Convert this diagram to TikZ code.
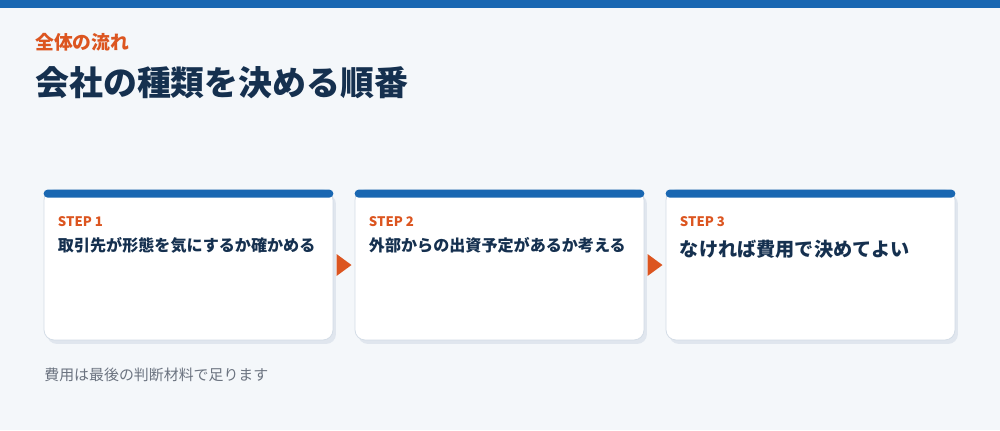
\documentclass[tikz,border=0pt]{standalone}
\usepackage{fontspec}
\setmainfont{Noto Sans CJK JP}
\usetikzlibrary{shapes.geometric, positioning, calc, shadows}
\definecolor{bgpage}{HTML}{F4F7FA}
\definecolor{topblue}{HTML}{1967B2}
\definecolor{accentorange}{HTML}{DC5520}
\definecolor{titlenavy}{HTML}{15304F}
\definecolor{cardline}{HTML}{D3DCE6}
\definecolor{cardshadow}{HTML}{E0E6EE}
\definecolor{notegray}{HTML}{6B7380}

\begin{document}
\begin{tikzpicture}[x=0.02cm, y=-0.02cm,
    card/.style={draw=cardline, line width=0.45pt, fill=white, rounded corners=0.2cm,
        minimum width=5.78cm, minimum height=3cm, inner sep=0pt,
        drop shadow={shadow xshift=0.06cm, shadow yshift=-0.08cm, fill=cardshadow, opacity=1}},
    steplabel/.style={anchor=west, inner sep=0pt, text=accentorange, font=\fontsize{7.5pt}{8pt}\selectfont\bfseries},
    cardtext/.style={anchor=west, inner sep=0pt, text=titlenavy}]
    \useasboundingbox (0,0) rectangle (1000,430);
    \fill[bgpage] (0,0) rectangle (1000,430);
    \fill[topblue] (0,0) rectangle (1000,8);

    % Heading
    \node[anchor=west, inner sep=0pt, text=accentorange, font=\fontsize{10.7pt}{12pt}\selectfont\bfseries] (kicker) at (35,42) {全体の流れ};
    \node[anchor=west, inner sep=0pt, text=titlenavy, font=\fontsize{19.3pt}{22pt}\selectfont\bfseries] (title) at (35,83) {会社の種類を決める順番};

    % Step cards
    \foreach \n/\x/\ty/\fs/\txt in {1/188.5/246/9.15pt/取引先が形態を気にするか確かめる, 2/499.5/246/9.15pt/外部からの出資予定があるか考える, 3/810.5/250/10.9pt/なければ費用で決めてよい} {
        \node[card] (card\n) at (\x,265) {};
        \fill[topblue, rounded corners=0.08cm] (card\n.north west) rectangle ($(card\n.north east)+(0,8)$);
        \node[steplabel] (step\n) at ($(card\n.north west)+(14,31.5)$) {STEP \n};
        \node[cardtext, font=\fontsize{\fs}{\fs}\selectfont\bfseries] (txt\n) at ($(card\n.north west)+(14,\ty-190)$) {\txt};
    }

    % Arrows between cards
    \foreach \a/\b in {1/2, 2/3} {
        \coordinate (arr\a) at ($(card\a.east)!0.5!(card\b.west)$);
        \fill[accentorange] ($(arr\a)+(-7.5,-11)$) -- ($(arr\a)+(7.5,0)$) -- ($(arr\a)+(-7.5,11)$) -- cycle;
    }

    % Footnote
    \node[anchor=west, inner sep=0pt, text=notegray, font=\fontsize{8.5pt}{10pt}\selectfont] (note) at (44,375) {費用は最後の判断材料で足ります};
\end{tikzpicture}
\end{document}
